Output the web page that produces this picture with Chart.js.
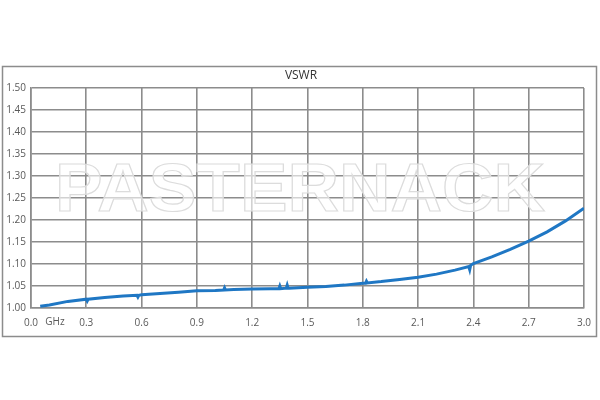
<!DOCTYPE html>
<html>
<head>
<meta charset="utf-8">
<script src="https://cdn.jsdelivr.net/npm/chart.js@4"></script>
<style>
  body { margin: 0; background: #fff; }
  #wrap { width: 600px; height: 400px; }
</style>
</head>
<body>
<div id="wrap"><canvas id="vswrChart" width="600" height="400"></canvas></div>
<script>
const freqGHz = [0.05, 0.1, 0.2, 0.3, 0.305, 0.31, 0.4, 0.5, 0.575, 0.58, 0.585, 0.6, 0.7, 0.8, 0.9, 1.0,
                 1.045, 1.05, 1.055, 1.1, 1.2, 1.3, 1.345, 1.35, 1.355, 1.385, 1.39, 1.395, 1.4,
                 1.5, 1.6, 1.7, 1.8, 1.815, 1.82, 1.825, 1.9, 2.0, 2.1, 2.2, 2.3, 2.375, 2.38, 2.385, 2.4,
                 2.5, 2.6, 2.7, 2.8, 2.9, 3.0];
const vswr = [1.004, 1.007, 1.015, 1.020, 1.016, 1.020, 1.024, 1.027, 1.029, 1.025, 1.029, 1.030, 1.033, 1.036, 1.039, 1.040,
              1.041, 1.046, 1.041, 1.042, 1.043, 1.044, 1.044, 1.050, 1.044, 1.045, 1.052, 1.045, 1.045,
              1.047, 1.049, 1.052, 1.056, 1.056, 1.061, 1.057, 1.060, 1.065, 1.070, 1.077, 1.086, 1.094, 1.087, 1.097, 1.101,
              1.116, 1.133, 1.152, 1.173, 1.198, 1.227];

const yTicks = ['1.00', '1.05', '1.10', '1.15', '1.20', '1.25', '1.30', '1.35', '1.40', '1.45', '1.50'];
const xTicks = ['0.0', '0.3', '0.6', '0.9', '1.2', '1.5', '1.8', '2.1', '2.4', '2.7', '3.0'];

const labelFont = { family: 'Open Sans', size: 10 };

// frame, title, watermark and the GHz label
const decorPlugin = {
    id: 'decor',
    beforeDraw(chart) {
        const ctx = chart.ctx;
        ctx.save();
        ctx.strokeStyle = '#8c8c8c';
        ctx.lineWidth = 1.5;
        ctx.strokeRect(2.5, 66.5, 594, 270);
        ctx.fillStyle = '#333';
        ctx.font = '12px "Open Sans"';
        ctx.textAlign = 'center';
        ctx.textBaseline = 'middle';
        ctx.fillText('VSWR', 301, 76);
        ctx.restore();
    },
    beforeDatasetsDraw(chart) {
        const ctx = chart.ctx;
        ctx.save();
        ctx.font = 'bold 68px "Liberation Sans"';
        const w = ctx.measureText('PASTERNACK').width;
        ctx.translate(300, 192);
        ctx.scale(490 / w, 1);
        ctx.textAlign = 'center';
        ctx.textBaseline = 'middle';
        ctx.fillStyle = 'rgba(255,255,255,0.6)';
        ctx.fillText('PASTERNACK', 0, 0);
        ctx.strokeStyle = '#dcdcdc';
        ctx.lineWidth = 1.2;
        ctx.strokeText('PASTERNACK', 0, 0);
        ctx.restore();
    },
    afterDraw(chart) {
        const ctx = chart.ctx;
        ctx.save();
        ctx.fillStyle = '#595959';
        ctx.font = '10px "Open Sans"';
        ctx.textAlign = 'center';
        ctx.textBaseline = 'middle';
        ctx.fillText('GHz', 55, 322);
        ctx.restore();
    }
};

const ctx = document.getElementById('vswrChart').getContext('2d');
const vswrChart = new Chart(ctx, {
    type: 'line',
    data: {
        datasets: [{
            label: 'VSWR',
            data: freqGHz.map((f, i) => ({ x: f, y: vswr[i] })),
            borderColor: '#1f77c4',
            borderWidth: 3,
            pointRadius: 0,
            tension: 0,
            fill: false
        }]
    },
    options: {
        responsive: false,
        animation: false,
        layout: { padding: { left: 2, right: 16, top: 88, bottom: 0 } },
        plugins: {
            legend: { display: false },
            tooltip: { enabled: false }
        },
        scales: {
            x: {
                type: 'linear',
                min: 0,
                max: 3,
                afterBuildTicks(axis) {
                    axis.ticks = xTicks.map(t => ({ value: parseFloat(t) }));
                },
                afterFit(axis) { axis.height = 92; },
                grid: { color: '#8c8c8c', lineWidth: 1.6, drawTicks: false },
                border: { color: '#8c8c8c', width: 1.6 },
                ticks: {
                    padding: 9,
                    color: '#595959',
                    font: labelFont,
                    maxRotation: 0,
                    callback: (v) => Number(v).toFixed(1)
                }
            },
            y: {
                min: 1,
                max: 1.5,
                afterBuildTicks(axis) {
                    axis.ticks = yTicks.map(t => ({ value: parseFloat(t) }));
                },
                afterFit(axis) { axis.width = 29; },
                grid: { color: '#8c8c8c', lineWidth: 1.6, drawTicks: false },
                border: { color: '#8c8c8c', width: 1.6 },
                ticks: {
                    padding: 5,
                    color: '#595959',
                    font: labelFont,
                    callback: (v) => Number(v).toFixed(2)
                }
            }
        }
    },
    plugins: [decorPlugin]
});
</script>
</body>
</html>
